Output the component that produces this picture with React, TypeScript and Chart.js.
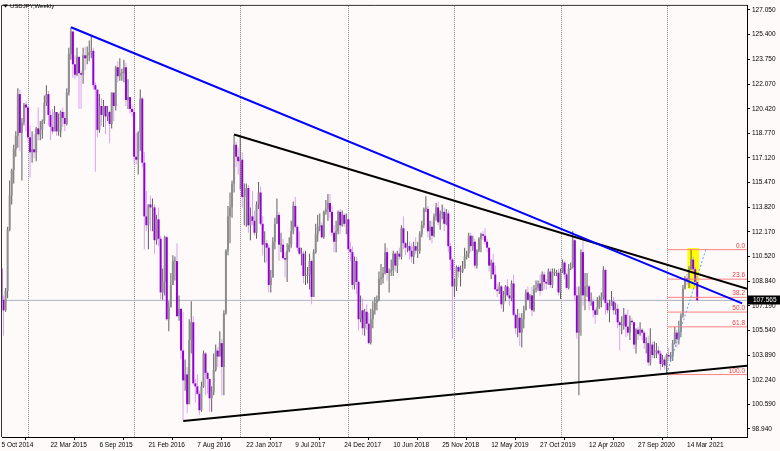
import React, { useEffect, useRef } from "react";
import { Chart, registerables } from "chart.js";

Chart.register(...registerables);

const TITLE = "USDJPY,Weekly";
const FONT = "'Liberation Sans', Arial, sans-serif";

// Weekly bars, index 0 = week of 5 Oct 2014 (open of each bar = previous close)
const FIRST_OPEN = 109.7;

const CLOSE_2014 = [107.6, 106.9, 108.2, 112.3, 114.6, 116.3, 117.7, 118.6, 121.4, 118.8, 119.5, 120.7, 120.5];
const HIGH_2014 = [110.1, 107.9, 108.4, 112.5, 115.6, 116.4, 118.0, 118.9, 121.8, 121.7, 119.8, 120.8, 120.9];
const LOW_2014 = [107.6, 105.2, 106.8, 107.7, 112.2, 114.0, 115.4, 117.2, 117.8, 117.6, 115.6, 119.3, 118.9];

const CLOSE_2015 = [118.5, 117.5, 117.7, 117.5, 119.1, 118.7, 119.0, 119.6, 120.8, 121.4, 120.0, 119.2, 118.9, 120.2, 118.9, 118.9, 120.2, 119.8, 119.4, 121.5, 124.1, 125.6, 123.4, 122.7, 123.9, 122.8, 122.7, 124.0, 123.8, 124.0, 124.2, 124.3, 122.0, 121.7, 119.0, 120.6, 120.0, 120.6, 119.9, 120.2, 119.4, 121.5, 120.6, 123.2, 122.6, 122.8, 122.8, 123.2, 121.0, 121.2, 120.4, 120.2];
const HIGH_2015 = [120.6, 119.3, 118.9, 118.7, 119.2, 120.5, 119.6, 119.7, 121.3, 122.0, 121.6, 120.3, 120.4, 120.6, 120.2, 120.1, 120.3, 120.5, 120.2, 121.8, 124.5, 125.86, 125.5, 124.0, 124.5, 123.9, 123.0, 124.5, 124.6, 124.6, 125.0, 125.3, 124.5, 122.2, 121.7, 121.4, 121.1, 121.0, 120.6, 120.6, 120.3, 121.5, 121.5, 123.3, 123.6, 123.8, 123.1, 123.7, 123.5, 122.4, 121.2, 120.7];
const LOW_2015 = [118.2, 115.8, 116.8, 117.1, 116.9, 118.3, 118.3, 118.4, 119.4, 120.6, 119.3, 118.3, 118.7, 119.3, 118.6, 118.6, 118.5, 119.2, 118.9, 119.3, 121.3, 123.7, 122.5, 122.4, 122.6, 120.4, 120.4, 122.1, 123.0, 123.4, 123.6, 123.8, 121.7, 116.2, 118.5, 118.8, 119.3, 119.2, 118.7, 119.6, 118.1, 119.1, 119.6, 120.3, 122.2, 122.3, 122.3, 122.2, 120.6, 120.4, 120.1, 119.9];

const CLOSE_2016 = [117.2, 117.0, 118.8, 121.1, 116.8, 113.2, 112.6, 114.0, 113.8, 113.8, 111.6, 113.0, 111.7, 108.1, 108.8, 111.8, 106.3, 107.1, 108.6, 110.2, 110.2, 106.5, 107.0, 104.2, 102.2, 102.6, 100.6, 104.9, 106.1, 102.0, 101.8, 101.3, 100.2, 101.8, 104.0, 102.7, 102.3, 101.0, 101.4, 102.9, 104.2, 103.8, 104.7, 103.1, 106.7, 110.9, 113.2, 113.8, 115.4, 118.0, 117.2, 116.9];
const HIGH_2016 = [120.4, 118.8, 118.9, 121.7, 121.2, 117.5, 114.9, 114.0, 114.6, 114.4, 114.0, 113.3, 113.8, 111.9, 109.7, 111.9, 111.9, 107.5, 109.4, 110.6, 110.5, 111.4, 107.9, 107.0, 106.8, 103.6, 103.1, 106.3, 107.5, 106.5, 102.3, 102.6, 101.5, 102.1, 104.2, 104.1, 102.8, 102.3, 101.8, 104.0, 104.6, 104.4, 105.5, 105.0, 106.9, 111.0, 113.9, 114.8, 115.6, 118.66, 118.2, 117.8];
const LOW_2016 = [116.7, 116.7, 116.0, 117.6, 116.5, 111.0, 112.2, 111.0, 112.2, 112.2, 110.7, 111.3, 111.2, 107.6, 107.6, 107.9, 106.2, 105.5, 107.3, 108.6, 108.9, 106.5, 106.2, 103.6, 99.5, 101.5, 100.0, 100.6, 104.0, 101.9, 100.7, 101.2, 99.9, 100.1, 101.7, 101.2, 101.3, 100.1, 100.1, 101.2, 102.8, 103.1, 103.8, 101.2, 101.2, 106.6, 110.6, 111.4, 113.1, 114.8, 116.5, 116.0];

const CLOSE_2017 = [117.0, 114.5, 114.6, 115.1, 112.6, 113.2, 112.9, 112.1, 114.0, 114.8, 112.7, 111.3, 111.4, 111.1, 108.6, 109.1, 111.5, 112.7, 113.3, 111.3, 111.3, 110.4, 110.3, 110.9, 111.3, 112.2, 113.9, 112.5, 111.1, 110.7, 110.7, 109.2, 109.2, 109.3, 110.2, 107.8, 110.8, 112.0, 112.5, 112.6, 111.8, 113.5, 113.7, 114.1, 113.5, 112.1, 111.5, 112.2, 113.5, 112.6, 113.3, 112.7];
const HIGH_2017 = [118.6, 117.5, 115.4, 115.4, 115.3, 113.8, 114.9, 113.6, 114.2, 115.5, 115.2, 113.2, 112.2, 111.6, 111.3, 109.6, 111.8, 113.1, 114.4, 113.5, 112.1, 111.7, 110.8, 111.4, 111.8, 112.9, 114.2, 114.5, 112.6, 112.2, 111.1, 110.9, 110.9, 109.8, 110.7, 110.3, 111.0, 112.7, 113.3, 113.4, 112.8, 113.6, 114.3, 114.7, 114.7, 113.9, 112.6, 112.9, 113.6, 113.7, 113.6, 113.4];
const LOW_2017 = [115.0, 113.8, 112.6, 112.5, 112.1, 111.6, 112.6, 111.9, 111.7, 113.7, 112.6, 110.6, 110.1, 110.1, 108.1, 108.1, 109.3, 111.0, 112.7, 110.2, 110.8, 110.3, 109.1, 108.8, 110.8, 111.1, 112.0, 112.4, 110.9, 110.6, 109.9, 108.7, 108.6, 108.7, 108.3, 107.3, 107.9, 110.7, 111.5, 112.2, 111.7, 111.7, 113.3, 112.9, 113.1, 111.9, 110.8, 110.8, 112.0, 112.0, 112.5, 112.5];

const CLOSE_2018 = [113.0, 111.0, 110.8, 108.6, 110.2, 108.8, 106.3, 106.9, 105.7, 106.8, 106.0, 104.7, 106.3, 106.9, 107.4, 107.6, 109.0, 109.1, 109.4, 110.8, 109.4, 109.5, 109.6, 110.7, 109.9, 110.7, 110.5, 112.4, 111.4, 111.1, 111.2, 110.9, 110.5, 111.2, 110.9, 110.9, 112.0, 112.6, 113.7, 113.7, 112.2, 112.5, 111.9, 113.2, 113.8, 112.8, 113.4, 113.5, 112.7, 113.4, 111.2, 110.3];
const HIGH_2018 = [113.4, 113.4, 111.5, 111.2, 110.5, 110.5, 108.9, 107.9, 107.7, 107.0, 107.3, 106.7, 107.0, 107.5, 107.8, 107.9, 109.5, 110.0, 109.8, 111.4, 111.1, 109.7, 110.3, 110.9, 110.8, 110.9, 111.1, 112.6, 113.2, 111.5, 112.2, 111.5, 111.4, 111.5, 111.8, 111.5, 112.2, 112.9, 113.8, 114.55, 113.9, 112.9, 112.9, 113.4, 114.1, 114.2, 113.6, 114.0, 113.8, 113.7, 113.6, 111.4];
const LOW_2018 = [112.0, 110.9, 110.2, 108.3, 108.3, 108.0, 105.55, 106.1, 105.25, 105.2, 105.6, 104.6, 104.6, 105.7, 106.6, 106.9, 107.5, 108.6, 108.7, 109.3, 108.9, 108.1, 109.2, 109.2, 109.5, 109.4, 110.3, 110.3, 111.0, 110.6, 110.8, 110.3, 110.1, 110.0, 110.7, 110.4, 110.7, 111.8, 112.4, 113.5, 111.8, 111.6, 111.4, 111.8, 112.9, 112.6, 112.3, 113.0, 112.2, 112.6, 110.8, 109.6];

const CLOSE_2019 = [108.5, 108.5, 109.8, 109.5, 109.5, 109.7, 110.5, 110.7, 111.9, 111.2, 111.5, 109.9, 110.9, 111.7, 112.0, 111.9, 111.5, 111.1, 109.9, 110.1, 109.3, 108.3, 108.2, 108.5, 107.3, 107.9, 108.5, 107.9, 107.7, 108.7, 106.6, 105.7, 106.4, 105.4, 106.3, 106.9, 108.1, 107.6, 107.9, 106.9, 108.3, 108.4, 108.7, 108.2, 109.3, 108.8, 108.7, 109.5, 108.6, 109.4, 109.4, 109.4, 108.1];
const HIGH_2019 = [110.4, 109.0, 109.9, 109.9, 109.9, 110.2, 111.1, 110.9, 112.1, 112.1, 111.9, 111.7, 111.0, 111.8, 112.1, 112.2, 112.4, 111.7, 111.1, 110.3, 110.7, 109.9, 108.7, 108.8, 108.6, 108.2, 108.6, 108.99, 108.4, 108.9, 109.3, 106.7, 106.98, 106.7, 106.7, 107.2, 108.3, 108.5, 108.0, 108.5, 108.6, 108.9, 108.9, 109.3, 109.5, 109.5, 109.0, 109.7, 109.7, 109.7, 109.7, 109.6, 109.7];
const LOW_2019 = [105.0, 107.8, 108.2, 109.1, 108.5, 109.4, 109.7, 110.3, 110.4, 110.8, 110.9, 109.7, 109.7, 110.8, 110.8, 111.6, 111.3, 110.8, 109.5, 109.0, 109.3, 108.3, 107.8, 108.0, 107.0, 106.8, 107.5, 107.8, 107.2, 107.5, 106.5, 105.3, 105.1, 104.5, 104.4, 105.7, 106.9, 107.5, 107.0, 106.5, 106.8, 108.1, 108.2, 107.9, 108.2, 108.3, 108.3, 108.6, 108.4, 108.4, 109.2, 109.2, 107.9];

const CLOSE_2020 = [109.5, 110.1, 109.3, 108.4, 109.7, 109.8, 111.6, 107.9, 105.4, 107.9, 110.8, 107.9, 108.5, 108.5, 107.5, 107.5, 106.9, 106.6, 107.1, 107.6, 107.8, 109.6, 107.4, 106.9, 107.2, 107.5, 106.9, 107.0, 106.1, 105.9, 105.9, 106.6, 105.8, 105.4, 106.2, 106.1, 104.6, 105.6, 105.3, 105.6, 105.4, 104.7, 104.7, 103.4, 104.6, 103.9, 104.1, 104.2, 104.0, 103.3, 103.6, 103.2];
const HIGH_2020 = [109.7, 110.3, 110.2, 109.4, 110.0, 110.1, 112.2, 111.7, 108.5, 108.5, 111.0, 111.7, 109.4, 109.4, 108.6, 108.1, 107.7, 107.0, 107.8, 107.9, 108.1, 109.85, 109.7, 107.6, 107.6, 108.2, 107.8, 107.4, 107.3, 106.2, 106.5, 107.05, 106.7, 106.95, 106.55, 106.4, 106.1, 105.7, 105.8, 106.1, 105.7, 105.5, 105.1, 105.2, 105.7, 104.8, 104.8, 104.7, 104.5, 104.2, 103.9, 103.8];
const LOW_2020 = [107.65, 109.4, 109.0, 108.3, 108.3, 109.6, 109.7, 107.5, 105.0, 101.2, 105.2, 107.2, 106.9, 107.8, 106.9, 107.2, 106.4, 106.0, 106.6, 107.0, 107.1, 107.6, 106.6, 106.7, 106.1, 107.2, 106.6, 106.6, 105.7, 104.2, 105.3, 105.6, 105.1, 105.2, 104.9, 105.9, 104.3, 104.0, 104.9, 105.2, 104.9, 104.3, 104.0, 103.2, 103.2, 103.7, 103.7, 103.7, 103.9, 102.9, 103.1, 102.95];

const CLOSE_2021 = [103.9, 103.8, 103.8, 104.7, 105.4, 104.95, 105.45, 106.55, 108.35, 109.05, 108.9, 109.65, 110.3, 109.65, 108.8, 107.565];
const HIGH_2021 = [104.0, 104.4, 104.1, 104.9, 105.8, 105.6, 106.2, 106.7, 108.6, 109.2, 109.35, 109.85, 110.97, 110.5, 109.8, 108.9];
const LOW_2021 = [102.59, 103.5, 103.5, 103.5, 104.6, 104.4, 104.6, 105.1, 106.4, 108.3, 108.6, 108.4, 109.6, 109.4, 108.6, 107.5];

// Axis ticks
const X_TICK_BARS = [0, 24, 48, 72, 96, 120, 144, 168, 192, 216, 240, 264, 288, 312, 336];
const X_TICK_LABELS = ["5 Oct 2014", "22 Mar 2015", "6 Sep 2015", "21 Feb 2016", "7 Aug 2016", "22 Jan 2017", "9 Jul 2017", "24 Dec 2017", "10 Jun 2018", "25 Nov 2018", "12 May 2019", "27 Oct 2019", "12 Apr 2020", "27 Sep 2020", "14 Mar 2021"];
const YEAR_START_BARS = [13, 65, 117, 170, 222, 274, 326];
const Y_TICKS = [127.05, 125.4, 123.75, 122.07, 120.42, 118.77, 117.12, 115.47, 113.82, 112.17, 110.52, 108.84, 107.19, 105.54, 103.89, 102.24, 100.59, 98.94];
const X_MIN = 0.245;
const X_MAX = 365.4;
const Y_MIN = 98.403;
const Y_MAX = 127.315;

// Objects
const LAST_PRICE = 107.565;
const BLUE_TREND = [{ x: 34.07, y: 125.88 }, { x: 363.0, y: 107.36 }];
const UPPER_BLACK = [{ x: 114.0, y: 118.69 }, { x: 365.4, y: 108.35 }];
const LOWER_BLACK = [{ x: 89.1, y: 99.48 }, { x: 365.4, y: 103.18 }];
const FIB_LABELS = ["0.0", "23.6", "38.2", "50.0", "61.8", "100.0"];
const FIB_PRICES = [110.97, 108.99, 107.77, 106.78, 105.79, 102.59];
const FIB_START_BAR = 326.5;
const FIB_TREND = [{ x: 326.1, y: 102.65 }, { x: 345.3, y: 111.02 }];
const HILITE_BARS = [336.2, 341.9];
const HILITE_PRICES = [108.35, 111.07];

const CLOSES = [...CLOSE_2014, ...CLOSE_2015, ...CLOSE_2016, ...CLOSE_2017, ...CLOSE_2018, ...CLOSE_2019, ...CLOSE_2020, ...CLOSE_2021];
const HIGHS = [...HIGH_2014, ...HIGH_2015, ...HIGH_2016, ...HIGH_2017, ...HIGH_2018, ...HIGH_2019, ...HIGH_2020, ...HIGH_2021];
const LOWS = [...LOW_2014, ...LOW_2015, ...LOW_2016, ...LOW_2017, ...LOW_2018, ...LOW_2019, ...LOW_2020, ...LOW_2021];

const BG = "#FFFAFA";
const BULL_BODY = "#8E8E8E";
const BULL_WICK = "#5E5E5E";
const BEAR_BODY = "#9400D3";
const BEAR_WICK = "#D9A3F0";

const mt4Plugin = {
  id: "mt4",
  beforeDraw(chart: any) {
    const { ctx, width, height } = chart;
    ctx.save();
    ctx.fillStyle = BG;
    ctx.fillRect(0, 0, width, height);
    ctx.restore();
  },
  beforeDatasetsDraw(chart: any) {
    const { ctx, chartArea: a, scales } = chart;
    const x = scales.x, y = scales.y;
    ctx.save();
    const bx0 = x.getPixelForValue(HILITE_BARS[0]);
    const bx1 = x.getPixelForValue(HILITE_BARS[1]);
    const by0 = y.getPixelForValue(HILITE_PRICES[1]);
    const by1 = y.getPixelForValue(HILITE_PRICES[0]);
    ctx.fillStyle = "#FFFF00";
    ctx.fillRect(bx0, by0, bx1 - bx0, by1 - by0);
    ctx.strokeStyle = "#8A8A8A";
    ctx.lineWidth = 1;
    ctx.setLineDash([1, 1]);
    YEAR_START_BARS.forEach((b) => {
      const px = Math.round(x.getPixelForValue(b)) + 0.5;
      ctx.beginPath();
      ctx.moveTo(px, a.top);
      ctx.lineTo(px, a.bottom);
      ctx.stroke();
    });
    ctx.restore();
  },
  afterDatasetsDraw(chart: any) {
    const { ctx, chartArea: a, scales } = chart;
    const y = scales.y;
    ctx.save();
    ctx.font = `6.5px ${FONT}`;
    ctx.fillStyle = "#F03C3C";
    ctx.textAlign = "right";
    ctx.textBaseline = "bottom";
    FIB_PRICES.forEach((p, k) => {
      ctx.fillText(FIB_LABELS[k], a.right - 2, y.getPixelForValue(p) - 0.5);
    });
    // frame
    ctx.strokeStyle = "#333";
    ctx.lineWidth = 1;
    ctx.beginPath();
    ctx.moveTo(a.left - 0.5, a.bottom);
    ctx.lineTo(a.left - 0.5, a.top - 0.5);
    ctx.lineTo(a.right, a.top - 0.5);
    ctx.stroke();
    // title
    ctx.fillStyle = "#000";
    ctx.beginPath();
    ctx.moveTo(3, 4.5);
    ctx.lineTo(8, 4.5);
    ctx.lineTo(5.5, 7.5);
    ctx.closePath();
    ctx.fill();
    ctx.font = `6px ${FONT}`;
    ctx.textAlign = "left";
    ctx.textBaseline = "middle";
    ctx.fillText(TITLE, 10, 6);
    ctx.restore();
  },
  afterDraw(chart: any) {
    const { ctx, chartArea: a, scales, width } = chart;
    const py = scales.y.getPixelForValue(LAST_PRICE);
    ctx.save();
    ctx.fillStyle = "#000";
    ctx.fillRect(a.right + 1, Math.round(py) - 4.5, width - a.right - 1, 9);
    ctx.fillStyle = "#FFF";
    ctx.font = `6.5px ${FONT}`;
    ctx.textAlign = "left";
    ctx.textBaseline = "middle";
    ctx.fillText(LAST_PRICE.toFixed(3), a.right + 6, Math.round(py));
    ctx.restore();
  },
};

export default function App() {
  const ref = useRef<HTMLCanvasElement | null>(null);

  useEffect(() => {
    const canvas = ref.current;
    if (!canvas) return;
    const opens = CLOSES.map((c, i) => (i === 0 ? FIRST_OPEN : CLOSES[i - 1]));
    const bull = CLOSES.map((c, i) => c >= opens[i]);
    const wickData = CLOSES.map((c, i) => ({
      x: i,
      y: [Math.min(LOWS[i], opens[i], c), Math.max(HIGHS[i], opens[i], c)],
    }));
    const bodyData = CLOSES.map((c, i) => ({ x: i, y: [opens[i], c] }));

    const line = (data: any[], color: string, width: number, order: number, dash: number[] = []) => ({
      type: "line" as const,
      data,
      borderColor: color,
      borderWidth: width,
      borderDash: dash,
      pointRadius: 0,
      fill: false,
      tension: 0,
      order,
    });

    const fibLines = FIB_PRICES.map((p) =>
      line([{ x: FIB_START_BAR, y: p }, { x: X_MAX, y: p }], "#FF8080", 1, 3)
    );

    const tickFont = { family: FONT, size: 6.5 };

    const chart = new Chart(canvas, {
      type: "bar",
      data: {
        datasets: [
          line([{ x: X_MIN, y: LAST_PRICE }, { x: X_MAX, y: LAST_PRICE }], "#AEB2C2", 1, 10),
          {
            type: "bar",
            data: wickData as any,
            backgroundColor: bull.map((b) => (b ? BULL_WICK : BEAR_WICK)),
            barThickness: 1,
            grouped: false,
            inflateAmount: 0,
            order: 6,
          } as any,
          {
            type: "bar",
            data: bodyData as any,
            backgroundColor: bull.map((b) => (b ? BULL_BODY : BEAR_BODY)),
            barThickness: 2,
            minBarLength: 1,
            grouped: false,
            inflateAmount: 0,
            order: 5,
          } as any,
          ...fibLines,
          line(FIB_TREND, "#4AA8FF", 1, 2, [2, 2]),
          line(LOWER_BLACK, "#000000", 2, 1),
          line(UPPER_BLACK, "#000000", 2, 1),
          line(BLUE_TREND, "#0000FF", 2, 0),
        ] as any,
      },
      options: {
        responsive: false,
        devicePixelRatio: 1,
        animation: false,
        events: [],
        layout: { padding: { left: 2, top: 1, right: 0, bottom: 0 } },
        plugins: { legend: { display: false }, tooltip: { enabled: false } },
        scales: {
          x: {
            type: "linear",
            position: "bottom",
            min: X_MIN,
            max: X_MAX,
            offset: false,
            afterBuildTicks: (s: any) => {
              s.ticks = X_TICK_BARS.map((v) => ({ value: v }));
            },
            afterFit: (s: any) => {
              s.height = 14;
            },
            ticks: {
              autoSkip: false,
              maxRotation: 0,
              minRotation: 0,
              align: "start",
              padding: 1,
              color: "#000",
              font: tickFont,
              callback: (v: any) => {
                const k = X_TICK_BARS.indexOf(Number(v));
                return k >= 0 ? X_TICK_LABELS[k] : "";
              },
            },
            grid: { display: true, drawOnChartArea: false, drawTicks: true, tickLength: 3, color: "#000" },
            border: { display: true, color: "#000" },
          },
          y: {
            type: "linear",
            position: "right",
            min: Y_MIN,
            max: Y_MAX,
            afterBuildTicks: (s: any) => {
              s.ticks = Y_TICKS.map((v) => ({ value: v }));
            },
            afterFit: (s: any) => {
              s.width = 33;
            },
            ticks: {
              padding: 2,
              color: "#000",
              font: tickFont,
              callback: (v: any) => Number(v).toFixed(3),
            },
            grid: { display: true, drawOnChartArea: false, drawTicks: true, tickLength: 3, color: "#000" },
            border: { display: true, color: "#000" },
          },
        },
      } as any,
      plugins: [mt4Plugin],
    });

    return () => {
      chart.destroy();
    };
  }, []);

  return (
    <div style={{ position: "fixed", left: 0, top: 0, width: 780, height: 451, background: BG }}>
      <canvas ref={ref} width={780} height={451} style={{ display: "block", width: 780, height: 451 }} />
    </div>
  );
}
